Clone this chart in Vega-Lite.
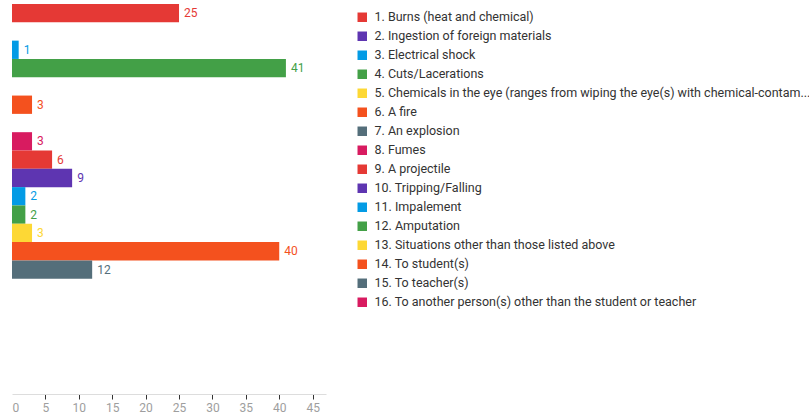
{
  "$schema": "https://vega.github.io/schema/vega-lite/v6.json",
  "width": 314,
  "height": 293,
  "padding": {"left": 11, "top": 4, "right": 0, "bottom": 0},
  "config": {
    "view": {"stroke": null},
    "font": "Roboto"
  },
  "data": {
    "values": [
      {"label": "1. Burns (heat and chemical)", "count": 25},
      {"label": "2. Ingestion of foreign materials", "count": 0},
      {"label": "3. Electrical shock", "count": 1},
      {"label": "4. Cuts/Lacerations", "count": 41},
      {"label": "5. Chemicals in the eye (ranges from wiping the eye(s) with chemical-contam...", "count": 0},
      {"label": "6. A fire", "count": 3},
      {"label": "7. An explosion", "count": 0},
      {"label": "8. Fumes", "count": 3},
      {"label": "9. A projectile", "count": 6},
      {"label": "10. Tripping/Falling", "count": 9},
      {"label": "11. Impalement", "count": 2},
      {"label": "12. Amputation", "count": 2},
      {"label": "13. Situations other than those listed above", "count": 3},
      {"label": "14. To student(s)", "count": 40},
      {"label": "15. To teacher(s)", "count": 12},
      {"label": "16. To another person(s) other than the student or teacher", "count": 0}
    ]
  },
  "encoding": {
    "y": {
      "field": "label",
      "type": "nominal",
      "axis": null,
      "sort": null,
      "scale": {"paddingInner": 0, "paddingOuter": 0}
    },
    "x": {
      "field": "count",
      "type": "quantitative",
      "title": null,
      "scale": {"domain": [0, 47], "nice": false},
      "axis": {
        "values": [0, 5, 10, 15, 20, 25, 30, 35, 40, 45],
        "grid": false,
        "offset": 97,
        "domainColor": "#dddddd",
        "tickColor": {"condition": {"test": "datum.value === 0", "value": "transparent"}, "value": "#333333"},
        "tickSize": 5,
        "labelColor": "#9e9e9e",
        "labelFontSize": 12,
        "labelPadding": 3
      }
    },
    "color": {
      "field": "label",
      "type": "nominal",
      "sort": null,
      "scale": {
        "range": ["#E53935", "#5E35B1", "#039BE5", "#43A047", "#FDD835", "#F4511E", "#546E7A", "#D81B60",
                  "#E53935", "#5E35B1", "#039BE5", "#43A047", "#FDD835", "#F4511E", "#546E7A", "#D81B60"]
      },
      "legend": {
        "title": null,
        "orient": "none",
        "legendX": 344,
        "legendY": 7,
        "padding": 0,
        "symbolType": "square",
        "symbolSize": 90,
        "symbolStrokeWidth": 0,
        "labelFontSize": 12.5,
        "labelColor": "#333333",
        "labelOffset": 6,
        "labelLimit": 460,
        "rowPadding": 6
      }
    }
  },
  "layer": [
    {"mark": {"type": "bar"}},
    {
      "transform": [{"filter": "datum.count > 0"}],
      "mark": {"type": "text", "align": "left", "baseline": "middle", "dx": 5, "fontSize": 12},
      "encoding": {"text": {"field": "count", "type": "quantitative"}}
    }
  ]
}
